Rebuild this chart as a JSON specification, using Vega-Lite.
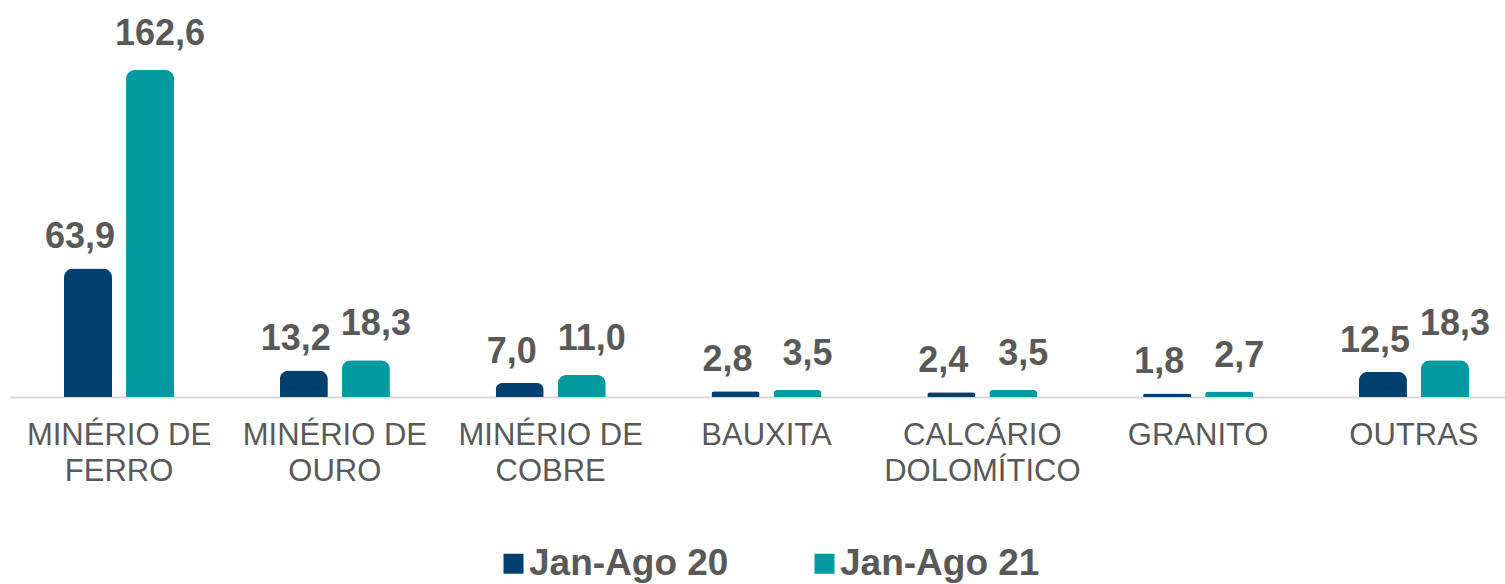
{
  "$schema": "https://vega.github.io/schema/vega-lite/v6.json",
  "autosize": {"type": "none"},
  "width": 1495,
  "height": 397,
  "padding": {"left": 10, "top": 0, "right": 0, "bottom": 187},
  "background": "white",
  "config": {
    "view": {"stroke": null},
    "locale": {"number": {"decimal": ",", "thousands": ".", "grouping": [3], "currency": ["R$", ""]}},
    "font": "Liberation Sans"
  },
  "data": {
    "values": [
      {"categoria": "MINÉRIO DE FERRO", "serie": "Jan-Ago 20", "valor": 63.9},
      {"categoria": "MINÉRIO DE FERRO", "serie": "Jan-Ago 21", "valor": 162.6},
      {"categoria": "MINÉRIO DE OURO", "serie": "Jan-Ago 20", "valor": 13.2},
      {"categoria": "MINÉRIO DE OURO", "serie": "Jan-Ago 21", "valor": 18.3},
      {"categoria": "MINÉRIO DE COBRE", "serie": "Jan-Ago 20", "valor": 7.0},
      {"categoria": "MINÉRIO DE COBRE", "serie": "Jan-Ago 21", "valor": 11.0},
      {"categoria": "BAUXITA", "serie": "Jan-Ago 20", "valor": 2.8},
      {"categoria": "BAUXITA", "serie": "Jan-Ago 21", "valor": 3.5},
      {"categoria": "CALCÁRIO DOLOMÍTICO", "serie": "Jan-Ago 20", "valor": 2.4},
      {"categoria": "CALCÁRIO DOLOMÍTICO", "serie": "Jan-Ago 21", "valor": 3.5},
      {"categoria": "GRANITO", "serie": "Jan-Ago 20", "valor": 1.8},
      {"categoria": "GRANITO", "serie": "Jan-Ago 21", "valor": 2.7},
      {"categoria": "OUTRAS", "serie": "Jan-Ago 20", "valor": 12.5},
      {"categoria": "OUTRAS", "serie": "Jan-Ago 21", "valor": 18.3}
    ]
  },
  "encoding": {
    "x": {
      "field": "categoria",
      "type": "nominal",
      "sort": null,
      "scale": {"paddingInner": 0.49, "paddingOuter": 0.2085, "align": 0.6},
      "axis": {
        "title": null,
        "labelAngle": 0,
        "ticks": false,
        "domainColor": "#D9D9D9",
        "domainWidth": 2,
        "labelFont": "Liberation Sans",
        "labelFontSize": 31,
        "labelColor": "#595959",
        "labelPadding": 23,
        "labelLineHeight": 36,
        "labelBaseline": "top",
        "labelLimit": 400,
        "labelExpr": "datum.label == 'CALCÁRIO DOLOMÍTICO' ? ['CALCÁRIO', 'DOLOMÍTICO'] : (indexof(datum.label, 'MINÉRIO DE ') == 0 ? ['MINÉRIO DE', substring(datum.label, 11)] : datum.label)"
      }
    },
    "xOffset": {
      "field": "serie",
      "type": "nominal",
      "scale": {"paddingInner": 0.226, "paddingOuter": 0}
    },
    "y": {
      "field": "valor",
      "type": "quantitative",
      "scale": {"domain": [0, 197.4], "nice": false, "zero": true},
      "axis": null
    }
  },
  "layer": [
    {
      "mark": {"type": "bar", "cornerRadiusTopLeft": 9, "cornerRadiusTopRight": 9},
      "encoding": {
        "color": {
          "field": "serie",
          "type": "nominal",
          "scale": {"domain": ["Jan-Ago 20", "Jan-Ago 21"], "range": ["#00406E", "#009BA1"]},
          "legend": {
            "title": null,
            "orient": "none",
            "legendX": 485,
            "legendY": 545,
            "direction": "horizontal",
            "columns": 2,
            "symbolType": "square",
            "symbolSize": 400,
            "symbolStrokeWidth": 0,
            "labelFont": "Liberation Sans",
            "labelFontSize": 37,
            "labelFontWeight": "bold",
            "labelColor": "#595959",
            "labelOffset": -3,
            "columnPadding": 77,
            "labelLimit": 400
          }
        }
      }
    },
    {
      "mark": {
        "type": "text",
        "baseline": "alphabetic",
        "align": "center",
        "dx": {"expr": "datum.serie == 'Jan-Ago 21' ? 10 : -8"},
        "dy": {"expr": "datum.serie == 'Jan-Ago 21' ? -25 : -20"},
        "font": "Liberation Sans",
        "fontSize": 36,
        "fontWeight": "bold",
        "color": "#595959"
      },
      "encoding": {
        "text": {"field": "valor", "type": "quantitative", "format": ".1f"}
      }
    }
  ]
}
